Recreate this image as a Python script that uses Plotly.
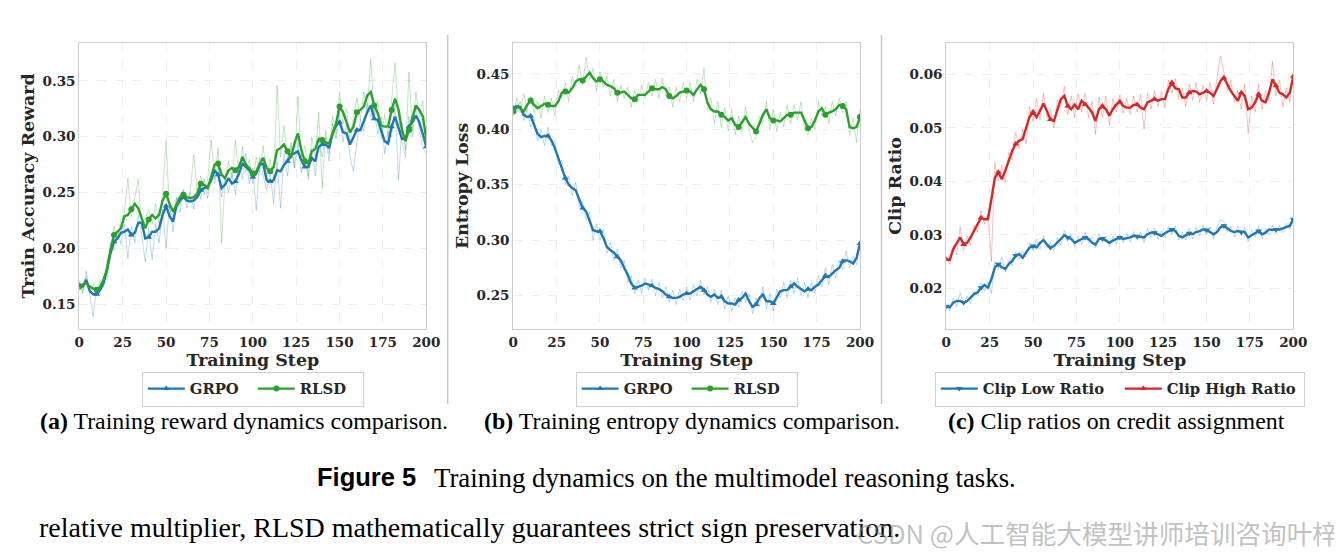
import plotly.graph_objects as go

# ---------------- data ----------------
steps = list(range(0, 201, 2))
step_ticks = [0, 25, 50, 75, 100, 125, 150, 175, 200]

# (a) Train accuracy reward
grpo_reward_raw = [
    .172, .160, .180, .158, .139, .165, .158, .175, .172, .205,
    .198, .215, .204, .222, .191, .220, .205, .230, .212, .188,
    .218, .190, .222, .205, .235, .200, .240, .215, .245, .232,
    .252, .236, .250, .235, .254, .244, .262, .245, .268, .258,
    .275, .246, .265, .250, .268, .248, .275, .262, .285, .258,
    .272, .234, .282, .265, .252, .268, .240, .278, .236, .285,
    .265, .292, .272, .295, .268, .282, .262, .290, .265, .300,
    .282, .300, .278, .312, .298, .322, .295, .312, .282, .269,
    .295, .315, .305, .330, .318, .325, .302, .318, .285, .305,
    .300, .328, .261, .312, .288, .318, .300, .326, .305, .290,
    .285]
grpo_reward_smooth = [
    .167, .166, .172, .162, .159, .159, .163, .169, .181, .196,
    .206, .209, .214, .215, .217, .212, .214, .223, .223, .209,
    .210, .215, .215, .218, .230, .238, .229, .224, .238, .243,
    .246, .243, .242, .243, .246, .252, .254, .255, .261, .270,
    .266, .254, .257, .263, .258, .260, .267, .276, .273, .270,
    .264, .267, .275, .276, .261, .260, .261, .270, .269, .275,
    .278, .284, .285, .287, .279, .273, .273, .281, .278, .291,
    .293, .293, .290, .303, .310, .313, .304, .303, .293, .300,
    .306, .306, .315, .322, .328, .316, .315, .306, .296, .294,
    .309, .318, .309, .298, .298, .309, .313, .319, .313, .303,
    .291]
rlsd_reward_raw = [
    .170, .162, .175, .160, .168, .158, .172, .165, .190, .195,
    .220, .208, .225, .232, .263, .228, .245, .262, .218, .226,
    .235, .222, .240, .222, .250, .296, .235, .228, .246, .238,
    .253, .241, .252, .284, .250, .265, .248, .262, .297, .262,
    .290, .205, .262, .278, .262, .297, .264, .291, .268, .280,
    .258, .282, .268, .292, .262, .280, .262, .346, .282, .310,
    .280, .295, .272, .336, .282, .292, .265, .300, .282, .322,
    .254, .305, .285, .318, .302, .340, .312, .325, .295, .318,
    .335, .315, .340, .322, .370, .318, .332, .298, .320, .300,
    .332, .366, .318, .295, .282, .358, .305, .340, .318, .332,
    .290]
rlsd_reward_smooth = [
    .166, .168, .169, .166, .164, .163, .166, .172, .182, .199,
    .212, .215, .218, .229, .230, .235, .240, .236, .226, .218,
    .226, .230, .227, .230, .243, .249, .240, .233, .239, .246,
    .248, .246, .245, .246, .249, .258, .257, .254, .264, .275,
    .276, .266, .263, .270, .272, .270, .273, .282, .275, .272,
    .267, .269, .276, .281, .272, .269, .273, .288, .290, .293,
    .287, .281, .294, .303, .288, .278, .276, .287, .289, .298,
    .297, .295, .294, .304, .312, .327, .322, .313, .304, .309,
    .322, .324, .327, .337, .340, .328, .321, .310, .309, .309,
    .324, .334, .324, .306, .296, .306, .318, .328, .324, .318,
    .298]

# (b) Entropy loss
grpo_entropy_raw = [
    .422, .415, .425, .408, .418, .402, .410, .390, .400, .385,
    .402, .385, .390, .368, .372, .350, .358, .340, .352, .330,
    .335, .318, .325, .300, .315, .300, .310, .288, .298, .282,
    .292, .275, .282, .262, .268, .252, .264, .252, .266, .255,
    .265, .250, .262, .248, .258, .244, .255, .242, .256, .246,
    .258, .246, .260, .250, .264, .250, .258, .244, .256, .242,
    .255, .238, .250, .236, .248, .240, .254, .244, .252, .234,
    .248, .240, .258, .238, .252, .236, .256, .248, .262, .248,
    .264, .252, .266, .250, .262, .248, .262, .252, .268, .258,
    .275, .260, .278, .266, .282, .274, .290, .275, .286, .278,
    .300]
grpo_entropy_smooth = [
    .419, .421, .420, .413, .411, .412, .404, .396, .393, .394,
    .394, .390, .383, .374, .366, .356, .350, .347, .345, .336,
    .329, .326, .318, .309, .308, .308, .302, .294, .291, .289,
    .285, .282, .275, .269, .261, .257, .258, .259, .261, .260,
    .259, .257, .256, .254, .251, .249, .248, .248, .249, .251,
    .252, .252, .254, .256, .258, .255, .251, .249, .251, .248,
    .249, .245, .243, .243, .242, .246, .248, .252, .245, .240,
    .242, .248, .251, .245, .245, .243, .249, .254, .255, .255,
    .258, .261, .258, .256, .254, .256, .255, .258, .260, .264,
    .268, .267, .270, .273, .275, .281, .282, .281, .279, .284,
    .297]
rlsd_entropy_raw = [
    .412, .428, .415, .432, .418, .430, .415, .425, .410, .430,
    .415, .428, .412, .435, .428, .442, .425, .448, .438, .458,
    .440, .465, .445, .455, .435, .452, .438, .448, .430, .445,
    .425, .440, .428, .438, .420, .435, .425, .440, .428, .442,
    .430, .445, .428, .446, .430, .438, .420, .438, .425, .442,
    .428, .442, .425, .445, .432, .455, .418, .428, .405, .425,
    .402, .420, .398, .418, .395, .412, .398, .420, .400, .388,
    .392, .412, .405, .425, .400, .418, .398, .415, .402, .422,
    .405, .422, .408, .425, .400, .395, .410, .400, .425, .412,
    .420, .405, .425, .412, .428, .415, .425, .395, .410, .388,
    .418]
rlsd_entropy_smooth = [
    .416, .420, .419, .416, .422, .426, .422, .419, .421, .423,
    .422, .421, .421, .425, .433, .434, .433, .437, .443, .445,
    .444, .448, .451, .446, .443, .445, .443, .440, .439, .437,
    .433, .433, .434, .431, .428, .427, .431, .431, .431, .434,
    .437, .436, .436, .438, .436, .430, .428, .430, .433, .434,
    .435, .434, .431, .436, .440, .436, .424, .418, .416, .416,
    .413, .411, .408, .410, .404, .402, .407, .411, .405, .401,
    .398, .405, .413, .418, .410, .408, .408, .407, .410, .413,
    .413, .415, .415, .415, .408, .401, .402, .408, .416, .419,
    .413, .415, .416, .418, .422, .421, .418, .402, .401, .402,
    .411]

# (c) Clip ratios
clip_low_raw = [
    .0170, .0158, .0182, .0165, .0192, .0168, .0185, .0170, .0195, .0185,
    .0210, .0195, .0212, .0190, .0250, .0235, .0258, .0230, .0252, .0242,
    .0268, .0255, .0270, .0258, .0285, .0270, .0292, .0272, .0298, .0275,
    .0285, .0270, .0295, .0280, .0308, .0288, .0302, .0278, .0298, .0282,
    .0305, .0285, .0295, .0275, .0302, .0285, .0298, .0278, .0298, .0282,
    .0302, .0285, .0302, .0286, .0306, .0290, .0305, .0285, .0312, .0295,
    .0312, .0292, .0308, .0295, .0315, .0300, .0316, .0290, .0305, .0290,
    .0312, .0292, .0314, .0298, .0318, .0300, .0315, .0292, .0314, .0328,
    .0325, .0305, .0316, .0296, .0316, .0298, .0314, .0288, .0308, .0296,
    .0316, .0292, .0312, .0300, .0318, .0302, .0318, .0304, .0322, .0310,
    .0334]
clip_low_smooth = [
    .0166, .0164, .0173, .0176, .0176, .0173, .0176, .0182, .0189, .0192,
    .0201, .0206, .0201, .0217, .0239, .0245, .0239, .0236, .0245, .0251,
    .0261, .0264, .0257, .0267, .0276, .0279, .0276, .0285, .0290, .0282,
    .0276, .0279, .0285, .0292, .0299, .0295, .0292, .0285, .0289, .0292,
    .0295, .0292, .0285, .0282, .0292, .0293, .0289, .0285, .0289, .0292,
    .0295, .0292, .0293, .0295, .0298, .0297, .0297, .0295, .0301, .0304,
    .0304, .0301, .0298, .0303, .0307, .0310, .0307, .0298, .0295, .0299,
    .0303, .0301, .0305, .0307, .0310, .0309, .0305, .0301, .0305, .0314,
    .0317, .0312, .0307, .0305, .0307, .0305, .0305, .0295, .0299, .0304,
    .0307, .0301, .0304, .0310, .0309, .0310, .0310, .0312, .0314, .0317,
    .0329]
clip_high_raw = [
    .0258, .0245, .0280, .0262, .0315, .0270, .0298, .0280, .0318, .0305,
    .0345, .0320, .0340, .0250, .0435, .0400, .0430, .0398, .0455, .0440,
    .0492, .0462, .0498, .0470, .0540, .0512, .0555, .0515, .0565, .0520,
    .0535, .0500, .0552, .0540, .0578, .0525, .0560, .0520, .0565, .0530,
    .0565, .0520, .0550, .0488, .0558, .0520, .0560, .0505, .0555, .0530,
    .0562, .0528, .0555, .0525, .0560, .0530, .0562, .0498, .0565, .0535,
    .0570, .0540, .0568, .0538, .0590, .0565, .0592, .0555, .0575, .0540,
    .0582, .0552, .0585, .0548, .0580, .0552, .0585, .0545, .0592, .0635,
    .0605, .0570, .0590, .0548, .0570, .0535, .0582, .0490, .0560, .0530,
    .0582, .0535, .0570, .0550, .0625, .0560, .0590, .0540, .0575, .0548,
    .0605]
clip_high_smooth = [
    .0254, .0253, .0273, .0285, .0295, .0282, .0285, .0295, .0307, .0320,
    .0332, .0329, .0329, .0367, .0407, .0417, .0404, .0420, .0438, .0457,
    .0470, .0476, .0479, .0498, .0521, .0530, .0520, .0532, .0546, .0532,
    .0516, .0513, .0532, .0554, .0560, .0541, .0535, .0544, .0535, .0551,
    .0544, .0538, .0529, .0513, .0535, .0541, .0535, .0523, .0535, .0544,
    .0549, .0541, .0538, .0538, .0543, .0544, .0538, .0535, .0548, .0551,
    .0554, .0551, .0554, .0554, .0573, .0585, .0574, .0573, .0557, .0557,
    .0566, .0569, .0568, .0563, .0566, .0569, .0566, .0560, .0573, .0588,
    .0594, .0582, .0569, .0560, .0551, .0566, .0560, .0535, .0538, .0548,
    .0563, .0551, .0548, .0566, .0591, .0579, .0566, .0563, .0557, .0566,
    .0597]

reward_ticks = [0.15, 0.20, 0.25, 0.30, 0.35]
entropy_ticks = [0.25, 0.30, 0.35, 0.40, 0.45]
clip_ticks = [0.02, 0.03, 0.04, 0.05, 0.06]

captions = [
    ("(a)", " Training reward dynamics comparison."),
    ("(b)", " Training entropy dynamics comparison."),
    ("(c)", " Clip ratios on credit assignment"),
]
figure_label = "Figure 5"
figure_caption = "Training dynamics on the multimodel reasoning tasks."
body_text = "relative multiplier, RLSD mathematically guarantees strict sign preservation."
watermark = "CSDN @人工智能大模型讲师培训咨询叶梓"

# ---------------- styling / layout ----------------
W, H = 1342, 556
PAGE_OFF = 8  # the page places the figure 8 px from the window's top-left corner
BLUE, GREEN, RED = "#1f77b4", "#2ca02c", "#d62728"
SERIF = "DejaVu Serif"
TXT = "#262626"


def fx(p):
    return (p - PAGE_OFF) / W


def fy(p):
    return 1 - (p - PAGE_OFF) / H


def rgba(hex_color, a):
    h = hex_color.lstrip("#")
    r, g, b = int(h[0:2], 16), int(h[2:4], 16), int(h[4:6], 16)
    return f"rgba({r},{g},{b},{a})"


mark_idx = [i for i, s in enumerate(steps) if s % 10 == 0]

panels = [
    dict(ax="", x0=79.3, x1=426.3, yr=[0.1277, 0.3843], ticks=reward_ticks,
         ytitle="Train Accuracy Reward", legend="legend", entry=58,
         series=[("GRPO", grpo_reward_raw, grpo_reward_smooth, BLUE, "triangle-up"),
                 ("RLSD", rlsd_reward_raw, rlsd_reward_smooth, GREEN, "circle")]),
    dict(ax="2", x0=513.3, x1=860.0, yr=[0.2197, 0.4782], ticks=entropy_ticks,
         ytitle="Entropy Loss", legend="legend2", entry=58,
         series=[("GRPO", grpo_entropy_raw, grpo_entropy_smooth, BLUE, "triangle-up"),
                 ("RLSD", rlsd_entropy_raw, rlsd_entropy_smooth, GREEN, "circle")]),
    dict(ax="3", x0=946.3, x1=1293.3, yr=[0.0123, 0.0660], ticks=clip_ticks,
         ytitle="Clip Ratio", legend="legend3", entry=132,
         series=[("Clip Low Ratio", clip_low_raw, clip_low_smooth, BLUE, "triangle-down"),
                 ("Clip High Ratio", clip_high_raw, clip_high_smooth, RED, "triangle-up")]),
]

Y_TOP, Y_BOT = 42.5, 329.3

fig = go.Figure()
layout = {}

for p in panels:
    xa, ya = "x" + p["ax"], "y" + p["ax"]
    # raw (faint) lines
    for name, raw, sm, col, sym in p["series"]:
        fig.add_trace(go.Scatter(x=steps, y=raw, mode="lines", xaxis=xa, yaxis=ya,
                                 line=dict(color=rgba(col, 0.28), width=1),
                                 showlegend=False, hoverinfo="skip"))
    # smoothed lines + markers
    for name, raw, sm, col, sym in p["series"]:
        fig.add_trace(go.Scatter(x=steps, y=sm, mode="lines", xaxis=xa, yaxis=ya,
                                 line=dict(color=col, width=2.4), showlegend=False))
        fig.add_trace(go.Scatter(x=[steps[i] for i in mark_idx], y=[sm[i] for i in mark_idx],
                                 mode="markers", xaxis=xa, yaxis=ya,
                                 marker=dict(color=col, symbol=sym, size=6),
                                 showlegend=False))
    # legend entries
    for name, raw, sm, col, sym in p["series"]:
        fig.add_trace(go.Scatter(x=[None], y=[None], mode="lines+markers", name=name,
                                 xaxis=xa, yaxis=ya, legend=p["legend"],
                                 line=dict(color=col, width=2.4),
                                 marker=dict(color=col, symbol=sym, size=6)))

    axis_common = dict(showline=True, mirror=True, linecolor="#cccccc", linewidth=1.2,
                       showgrid=True, gridcolor="#efefef", griddash="dash", gridwidth=0.8,
                       zeroline=False, ticks="", automargin=False,
                       tickfont=dict(family=SERIF, size=13.5, color=TXT, weight="bold"))
    layout["xaxis" + p["ax"]] = dict(
        axis_common, domain=[fx(p["x0"]), fx(p["x1"])], range=[0, 200],
        tickvals=step_ticks, anchor=ya,
        title=dict(text="Training Step", standoff=2,
                   font=dict(family=SERIF, size=17.4, color=TXT, weight="bold")))
    layout["yaxis" + p["ax"]] = dict(
        axis_common, domain=[fy(Y_BOT), fy(Y_TOP)], range=p["yr"],
        tickvals=p["ticks"], tickformat=".2f", anchor=xa,
        title=dict(text=p["ytitle"], standoff=3,
                   font=dict(family=SERIF, size=17.4, color=TXT, weight="bold")))
    layout[p["legend"]] = dict(
        x=fx((p["x0"] + p["x1"]) / 2), y=fy(371.5), xanchor="center", yanchor="top",
        orientation="h", bordercolor="#d0d0d0", borderwidth=1, bgcolor="white",
        itemwidth=37, entrywidth=p["entry"], entrywidthmode="pixels",
        font=dict(family=SERIF, size=14.8, color=TXT, weight="bold"))

fig.update_layout(**layout)

annotations = []
cap_x = [38, 482, 946]
for (lab, txt), cx in zip(captions, cap_x):
    annotations.append(dict(text=f"<b>{lab}</b>{txt}", x=fx(cx), y=fy(421), xref="paper", yref="paper",
                            xanchor="left", yanchor="middle", showarrow=False,
                            font=dict(family="Liberation Serif", size=23.9, color="black")))
annotations.append(dict(text=f"<b>{figure_label}</b>", x=fx(315), y=fy(477), xref="paper", yref="paper",
                        xanchor="left", yanchor="middle", showarrow=False,
                        font=dict(family="Liberation Sans", size=25.5, color="black")))
annotations.append(dict(text=figure_caption, x=fx(432), y=fy(478), xref="paper", yref="paper",
                        xanchor="left", yanchor="middle", showarrow=False,
                        font=dict(family="Liberation Serif", size=26.8, color="black")))
annotations.append(dict(text=body_text, x=fx(37), y=fy(527), xref="paper", yref="paper",
                        xanchor="left", yanchor="middle", showarrow=False,
                        font=dict(family="Liberation Serif", size=28, color="black")))
annotations.append(dict(text=watermark, x=fx(1340), y=fy(532), xref="paper", yref="paper",
                        xanchor="right", yanchor="middle", showarrow=False,
                        font=dict(family="Noto Sans CJK SC", size=25.6, color="rgba(140,140,140,0.55)")))

shapes = []
for sx in [447.7, 881.5]:
    shapes.append(dict(type="line", xref="paper", yref="paper", x0=fx(sx), x1=fx(sx),
                       y0=fy(35), y1=fy(404), line=dict(color="#c8c8c8", width=1.5)))

fig.update_layout(width=W, height=H, margin=dict(l=0, r=0, t=0, b=0, autoexpand=False),
                  paper_bgcolor="white", plot_bgcolor="white",
                  annotations=annotations, shapes=shapes,
                  font=dict(family=SERIF, color=TXT))

fig.write_html("out.html")
